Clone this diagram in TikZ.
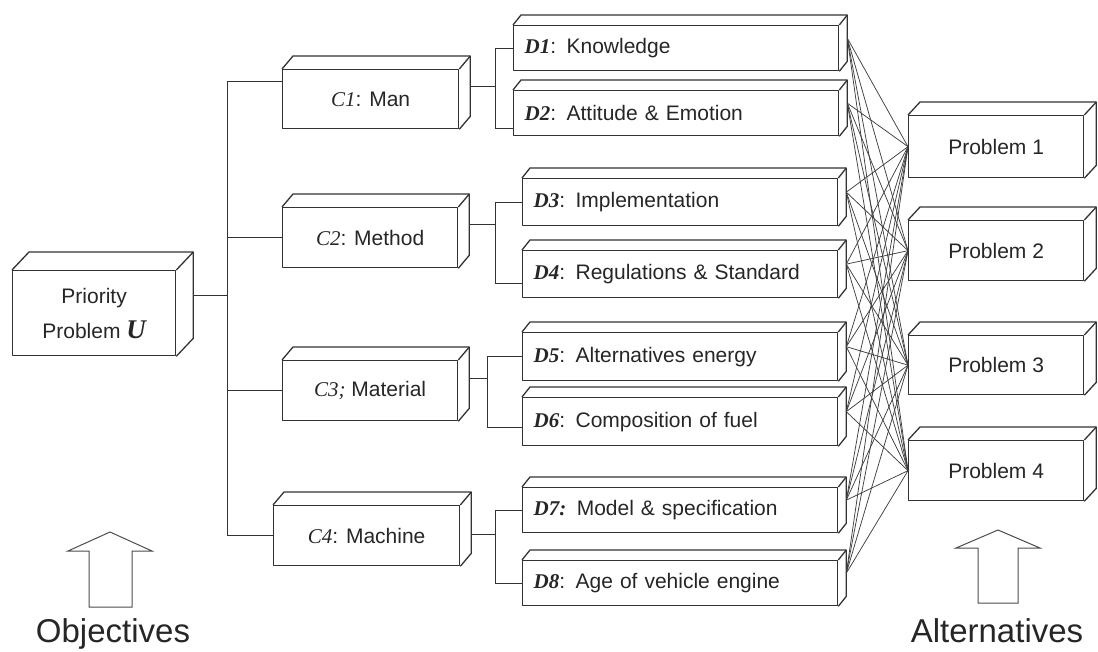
\documentclass[tikz,border=0pt]{standalone}
\usepackage{fontspec}
\setmainfont{Liberation Sans}
\newfontfamily\timesfont{Liberation Serif}
\newcommand{\clab}[1]{{\timesfont\itshape #1}}
\newcommand{\dlab}[1]{{\timesfont\bfseries\itshape #1}}
% top and side face of a box node
\newcommand{\boxdepth}[3]{%
 \draw[boxline] (#1.north west) -- ++(#2,#3) -- ([shift={(#2,#3)}]#1.north east)
   -- ([shift={(#2,#3)}]#1.south east) -- (#1.south east);
 \draw[boxline] (#1.north east) -- ++(#2,#3);}
\tikzset{
 boxline/.style={draw=black!80, line width=1.3pt, line join=round},
 box/.style={boxline, inner sep=0pt, anchor=north west, text=black!85, font=\fontsize{21}{25}\selectfont},
 link/.style={draw=black!80, line width=0.9pt},
 cross/.style={draw=black!75, line width=0.75pt},
 bigarrow/.style={draw=black!70, line width=1pt, line join=miter},
 caption/.style={anchor=base, text=black!85, font=\fontsize{33}{38}\selectfont},
}
\begin{document}
\begin{tikzpicture}[x=1pt,y=-1pt]
\useasboundingbox (0,0) rectangle (1098,651);

% goal
\node[box, minimum width=163pt, minimum height=85pt, align=center] (pri) at (12,270)
 {Priority\\[10pt] Problem {\timesfont\bfseries\itshape\fontsize{27}{27}\selectfont U}};
\boxdepth{pri}{17}{-18}

% criteria
\node[box, minimum width=176pt, minimum height=59pt] (c1) at (282,69) {\clab{C1}: Man};
\node[box, minimum width=175pt, minimum height=60pt] (c2) at (282,207) {\clab{C2}: Method};
\node[box, minimum width=175pt, minimum height=60pt] (c3) at (282,360) {\clab{C3;} Material};
\node[box, minimum width=186pt, minimum height=60pt] (c4) at (273,505) {\clab{C4}: Machine};
\foreach \i in {1,...,4} {\boxdepth{c\i}{11}{-13}}

% sub-criteria
\foreach \i/\x/\y/\w/\hh/\lbl in {
 1/513/25/325/45/{\dlab{D1}: Knowledge},
 2/513/90/325/45/{\dlab{D2}: Attitude \& Emotion},
 3/522/178/315/47/{\dlab{D3}: Implementation},
 4/522/250/315/47/{\dlab{D4}: Regulations \& Standard},
 5/522/332/315/48/{\dlab{D5}: Alternatives energy},
 6/522/397/315/48/{\dlab{D6}: Composition of fuel},
 7/522/487/315/45/{\dlab{D7:} Model \& specification},
 8/522/560/315/45/{\dlab{D8}: Age of vehicle engine}} {
 \pgfmathsetmacro{\tw}{\w-22}
 \node[box, text width=\tw pt, inner xsep=11pt, minimum height=\hh pt, align=left] (d\i) at (\x,\y) {\lbl};
 \boxdepth{d\i}{8}{-10}
}

% alternatives
\foreach \j/\y/\hh in {1/115/62, 2/220/60, 3/335/59, 4/440/60} {
 \node[box, minimum width=175pt, minimum height=\hh pt] (p\j) at (908,\y) {Problem \j};
 \boxdepth{p\j}{12}{-13}
}

% tree
\coordinate (trunk) at (227,0);
\draw[link] ([shift={(17,-18)}]pri.east) coordinate (pe) -- (pe -| trunk);
\draw[link] ([yshift=18pt]c1.west) -| (trunk |- c4.west) -- (c4.west);
\draw[link] (c2.west) -- (c2.west -| trunk);
\draw[link] (c3.west) -- (c3.west -| trunk);
\foreach \c/\a/\b/\bx/\cy/\by in {1/1/2/495/-13/15, 2/3/4/495/-13/9, 3/5/6/487/-12/6, 4/7/8/495/-1/0} {
 \draw[link] ([shift={(11,\cy)}]c\c.east) coordinate (ce) -- (ce -| \bx,0);
 \draw[link] (d\a.west) -- (d\a.west -| \bx,0) |- ([yshift=-\by pt]d\b.west);
}

% every sub-criterion to every alternative
\foreach \a in {1,...,8}
 \foreach \j in {1,...,4}
  \draw[cross] ([shift={(8,-10)}]d\a.east) -- (p\j.west);

% arrows
\draw[bigarrow] (89,607) -- (89,551) -- (68,551) -- (110,532) -- (152,551) -- (132,551) -- (132,607) -- cycle;
\draw[bigarrow] (978,603) -- (978,548) -- (956,548) -- (998,530) -- (1040,548) -- (1018,548) -- (1018,603) -- cycle;
\node[caption] (obj) at (113,642) {Objectives};
\node[caption] (alt) at (997,642) {Alternatives};

\end{tikzpicture}
\end{document}
